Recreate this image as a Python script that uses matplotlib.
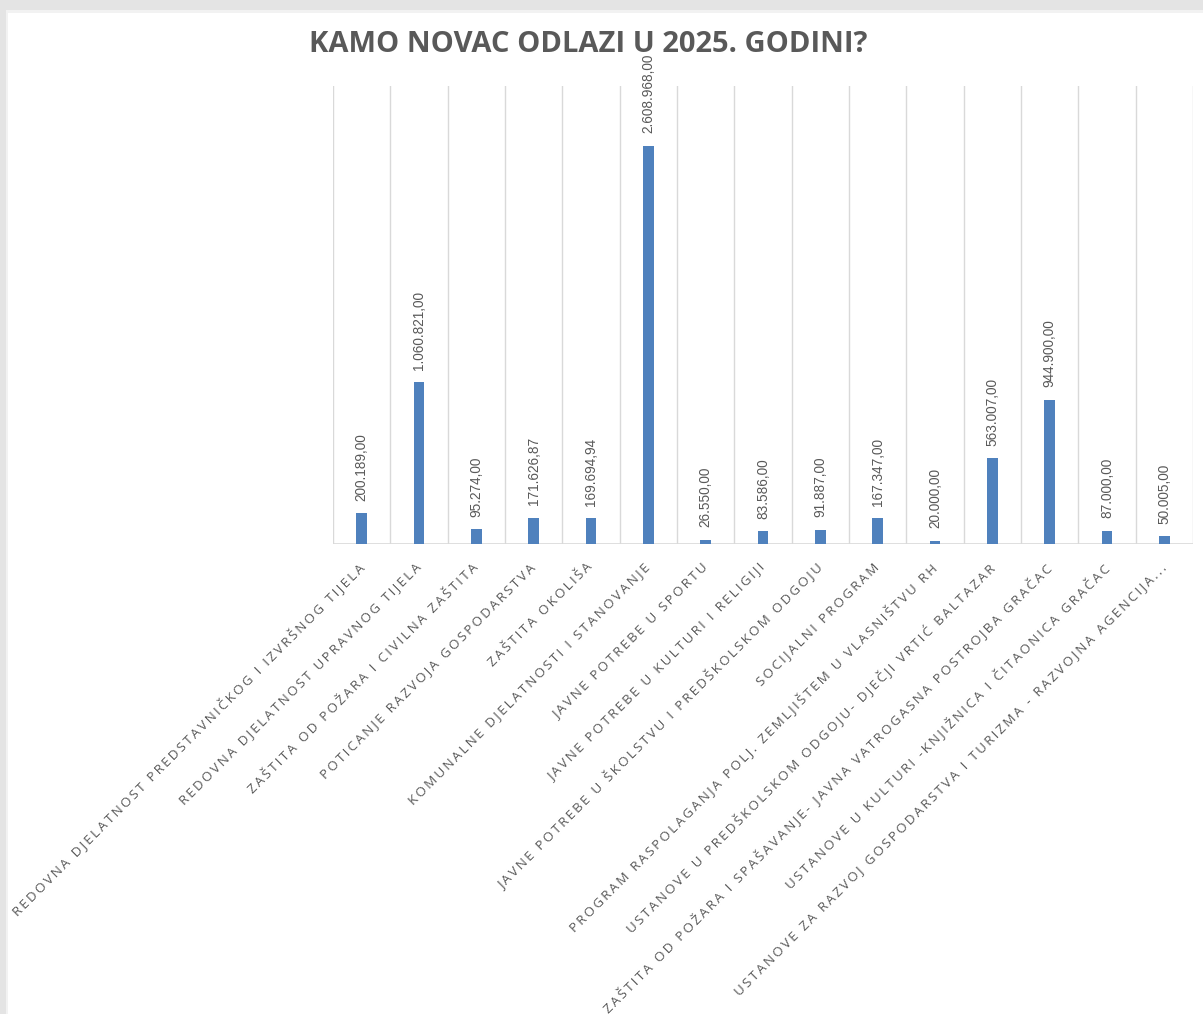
import matplotlib
matplotlib.use("Agg")
import matplotlib.pyplot as plt
import matplotlib.transforms as mtransforms
from matplotlib import font_manager
from matplotlib.patches import Rectangle

categories = [
    "REDOVNA DJELATNOST PREDSTAVNIČKOG I IZVRŠNOG TIJELA",
    "REDOVNA DJELATNOST UPRAVNOG TIJELA",
    "ZAŠTITA OD POŽARA I CIVILNA ZAŠTITA",
    "POTICANJE RAZVOJA GOSPODARSTVA",
    "ZAŠTITA OKOLIŠA",
    "KOMUNALNE DJELATNOSTI I STANOVANJE",
    "JAVNE POTREBE U SPORTU",
    "JAVNE POTREBE U KULTURI I RELIGIJI",
    "JAVNE POTREBE U ŠKOLSTVU I PREDŠKOLSKOM ODGOJU",
    "SOCIJALNI PROGRAM",
    "PROGRAM RASPOLAGANJA POLJ. ZEMLJIŠTEM U VLASNIŠTVU RH",
    "USTANOVE U PREDŠKOLSKOM ODGOJU- DJEČJI VRTIĆ BALTAZAR",
    "ZAŠTITA OD POŽARA I SPAŠAVANJE- JAVNA VATROGASNA POSTROJBA GRAČAC",
    "USTANOVE U KULTURI -KNJIŽNICA I ČITAONICA GRAČAC",
    "USTANOVE ZA RAZVOJ GOSPODARSTVA I TURIZMA - RAZVOJNA AGENCIJA...",
]
values = [200189.00, 1060821.00, 95274.00, 171626.87, 169694.94, 2608968.00,
          26550.00, 83586.00, 91887.00, 167347.00, 20000.00, 563007.00,
          944900.00, 87000.00, 50005.00]
title = "KAMO NOVAC ODLAZI U 2025. GODINI?"


def pick_font(cands, weight="normal"):
    for c in cands:
        try:
            font_manager.findfont(font_manager.FontProperties(family=c, weight=weight),
                                  fallback_to_default=False)
            return c
        except Exception:
            continue
    return "DejaVu Sans"


title_font = pick_font(["Liberation Sans Narrow", "Open Sans", "DejaVu Sans"], "bold")
label_font = pick_font(["Open Sans", "Noto Sans", "DejaVu Sans"])
value_font = pick_font(["Liberation Sans", "Arial", "DejaVu Sans"])


def fmt(v):
    s = f"{v:,.2f}"
    return s.replace(",", "X").replace(".", ",").replace("X", ".")


def spaced(s):
    return "\u2009".join(s)


W, H = 1203, 1014
fig = plt.figure(figsize=(W / 100, H / 100), dpi=100, facecolor="#e4e4e4")
fig.patches.append(Rectangle((6 / W, 0), 1, 1 - 10 / H, transform=fig.transFigure,
                             facecolor="#f2f2f2", edgecolor="none", zorder=-5))
fig.patches.append(Rectangle((8 / W, 0), 1, 1 - 13 / H, transform=fig.transFigure,
                             facecolor="white", edgecolor="none", zorder=-4))

left, right, bottom_px, top_px = 333, 1193, 544, 86
ax = fig.add_axes([left / W, 1 - bottom_px / H, (right - left) / W, (bottom_px - top_px) / H])
ax.set_zorder(2)
ax.set_facecolor("none")

x = list(range(len(categories)))
bars = ax.bar(x, values, width=0.19, color="#4f81bd", zorder=3)
ax.set_xlim(-0.5, len(categories) - 0.5)
ax.set_ylim(0, 3000000)

for i in range(len(categories) + 1):
    ax.axvline(i - 0.5, color="#d9d9d9", lw=1.0, zorder=1)
ax.axhline(0, color="#d9d9d9", lw=1.2, zorder=2)

for b, v in zip(bars, values):
    ax.annotate(fmt(v), (b.get_x() + b.get_width() / 2, v), xytext=(0, 9),
                textcoords="offset points", rotation=90, ha="center", va="bottom",
                fontsize=9.8, color="#595959", family=value_font)

for s in ax.spines.values():
    s.set_visible(False)
ax.set_yticks([])
ax.set_xticks(x)
ax.set_xticklabels([spaced(c) for c in categories], rotation=45, ha="right",
                   va="top", rotation_mode="anchor", fontsize=9.6, color="#595959",
                   family=[label_font, "DejaVu Sans"])
ax.tick_params(axis="x", length=0, pad=12)
shift = mtransforms.ScaledTranslation(-5 / 100, 0, fig.dpi_scale_trans)
for lbl in ax.get_xticklabels():
    lbl.set_transform(lbl.get_transform() + shift)

fig.text(588 / W, 1 - 44 / H, title, ha="center", va="center", fontsize=21,
         fontweight="bold", color="#595959", family=title_font)

fig.savefig("out.png", dpi=100, facecolor=fig.get_facecolor())
